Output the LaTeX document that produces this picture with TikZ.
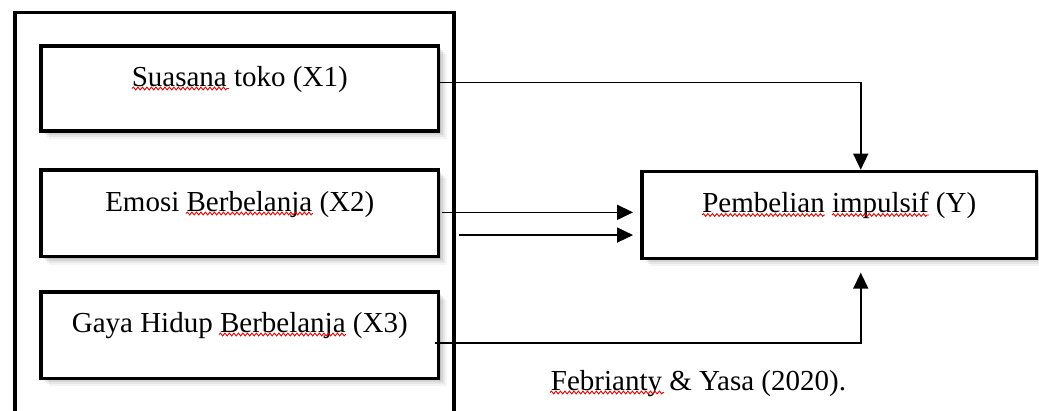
\documentclass[tikz,border=0pt]{standalone}
\usepackage{fontspec}
\setmainfont{Liberation Serif}
\usetikzlibrary{arrows.meta,shadows,decorations.pathmorphing,calc}
\begin{document}
\begin{tikzpicture}[x=1pt,y=-1pt,
  txt/.style={font=\fontsize{29}{34}\selectfont},
  softshadow/.style={
    drop shadow={shadow xshift=2pt,shadow yshift=-2pt,opacity=0.10,fill=black},
    drop shadow={shadow xshift=4pt,shadow yshift=-4pt,opacity=0.08,fill=black},
    drop shadow={shadow xshift=6pt,shadow yshift=-6pt,opacity=0.06,fill=black},
    drop shadow={shadow xshift=8pt,shadow yshift=-8pt,opacity=0.04,fill=black}},
  box/.style={txt,draw,line width=3.3pt,fill=white,inner sep=0pt,softshadow},
  xbox/.style={box,minimum width=397.5pt},
  frame/.style={draw,line width=3.5pt,inner sep=0pt,outer sep=0pt},
  conn/.style={line width=1.6pt,-{Triangle[length=16pt,width=15pt]}},
  sq/.style={draw=red!90!black,line width=0.9pt,decorate,
    decoration={snake,amplitude=1.4pt,segment length=4.5pt}}]
\useasboundingbox (0,0) rectangle (1039,410);
\clip (0,0) rectangle (1039,410);

% input boxes
\node[xbox,text height=40pt,text depth=45pt] (x1) at (239.75,88.5) {Suasana toko (X1)};
\node[xbox,text height=41pt,text depth=45.7pt] (x2) at (239.75,213.35) {Emosi Berbelanja (X2)};
\node[xbox,text height=40pt,text depth=46.3pt] (x3) at (239.75,335.15) {Gaya Hidup Berbelanja (X3)};

% outer frame
\node[frame,minimum width=439pt,minimum height=420pt,anchor=north west] (outer) at (15,12.7) {};

% dependent box
\node[box,minimum width=394.5pt,text height=41.2pt,text depth=45.8pt] (y) at (839.25,214.8) {Pembelian impulsif (Y)};

% source
\node[txt,anchor=base] (src) at (698.5,390) {Febrianty \& Yasa (2020).};

% connectors
\coordinate (ytop) at ($(y.north)+(21.5,0)$);
\coordinate (ybot) at ($(y.south)+(21.5,12.7)$);
\coordinate (yin) at ([xshift=-7.3pt]y.west);
\coordinate (a1) at ([xshift=2pt,yshift=1pt]x2.east);
\coordinate (a2) at ([xshift=19pt,yshift=-21.7pt]x2.east);
\draw[conn] ([yshift=6.2pt]x1.east) -| (ytop);
\draw[conn] ([xshift=-5pt,yshift=-8.1pt]x3.east) -| (ybot);
\draw[conn] (a1) -- (a1 -| yin);
\draw[conn] (a2) -- (a2 -| yin);

% spell-check squiggles
\draw[sq] (132,88.5) -- (229,88.5);
\draw[sq] (186,213.5) -- (313,213.5);
\draw[sq] (219,334.5) -- (346,334.5);
\draw[sq] (702,215) -- (825,215);
\draw[sq] (832,215) -- (929,215);
\draw[sq] (550,392.5) -- (664,392.5);
\end{tikzpicture}
\end{document}
